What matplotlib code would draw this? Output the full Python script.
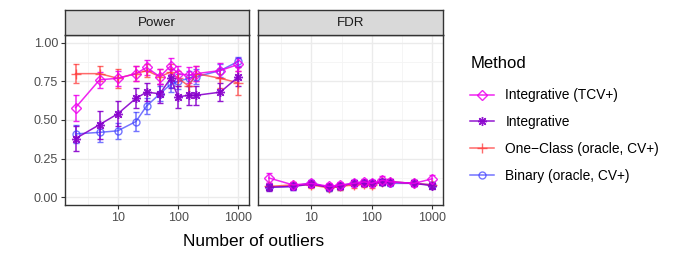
import matplotlib
matplotlib.use("Agg")
import matplotlib.pyplot as plt
from matplotlib.lines import Line2D
import numpy as np

plt.rcParams['font.family'] = ['Liberation Sans', 'DejaVu Sans']

# ---- data ----
n_outliers = [2, 5, 10, 20, 30, 50, 75, 100, 150, 200, 500, 1000]
methods = ["Integrative (TCV+)", "Integrative", "One\u2212Class (oracle, CV+)", "Binary (oracle, CV+)"]

power_tcv = [0.58, 0.76, 0.77, 0.80, 0.84, 0.78, 0.85, 0.80, 0.79, 0.80, 0.82, 0.86]
power_tcv_err = [0.085, 0.05, 0.05, 0.05, 0.05, 0.05, 0.05, 0.05, 0.05, 0.05, 0.05, 0.04]
power_int = [0.38, 0.47, 0.54, 0.64, 0.68, 0.67, 0.77, 0.65, 0.66, 0.66, 0.68, 0.78]
power_int_err = [0.08, 0.09, 0.08, 0.065, 0.06, 0.06, 0.06, 0.07, 0.06, 0.06, 0.06, 0.06]
power_oc = [0.80, 0.80, 0.77, 0.80, 0.82, 0.78, 0.81, 0.77, 0.72, 0.80, 0.77, 0.74]
power_oc_err = [0.06, 0.05, 0.06, 0.05, 0.04, 0.05, 0.05, 0.05, 0.06, 0.05, 0.06, 0.08]
power_bin = [0.41, 0.42, 0.43, 0.49, 0.59, 0.67, 0.73, 0.75, 0.77, 0.78, 0.82, 0.88]
power_bin_err = [0.06, 0.06, 0.05, 0.06, 0.05, 0.05, 0.05, 0.05, 0.05, 0.05, 0.04, 0.03]

fdr_tcv = [0.125, 0.08, 0.09, 0.07, 0.08, 0.09, 0.10, 0.09, 0.11, 0.10, 0.09, 0.12]
fdr_tcv_err = [0.03, 0.02, 0.02, 0.02, 0.02, 0.02, 0.02, 0.02, 0.025, 0.02, 0.02, 0.025]
fdr_int = [0.065, 0.07, 0.085, 0.065, 0.075, 0.09, 0.09, 0.09, 0.10, 0.10, 0.09, 0.075]
fdr_int_err = [0.025, 0.02, 0.02, 0.02, 0.02, 0.02, 0.02, 0.02, 0.02, 0.02, 0.02, 0.02]
fdr_oc = [0.07, 0.08, 0.08, 0.06, 0.07, 0.08, 0.085, 0.08, 0.10, 0.10, 0.09, 0.08]
fdr_oc_err = [0.02, 0.02, 0.02, 0.02, 0.02, 0.02, 0.02, 0.02, 0.02, 0.02, 0.02, 0.02]
fdr_bin = [0.065, 0.07, 0.095, 0.06, 0.07, 0.09, 0.09, 0.09, 0.10, 0.09, 0.09, 0.08]
fdr_bin_err = [0.02, 0.02, 0.02, 0.02, 0.02, 0.02, 0.02, 0.02, 0.02, 0.02, 0.02, 0.02]

x_ticks = [10, 100, 1000]
x_ticklabels = ["10", "100", "1000"]
y_ticks = [0.0, 0.25, 0.5, 0.75, 1.0]
y_ticklabels = ["0.00", "0.25", "0.50", "0.75", "1.00"]

colors = ["#EE00EE", "#8800CC", "#FF3838", "#3A3AFF"]
alphas = [0.85, 0.9, 0.75, 0.7]
markers = ["D", (8, 2, 0), "+", "o"]
msizes = [5, 6.5, 7, 5]

power = [(power_tcv, power_tcv_err), (power_int, power_int_err),
         (power_oc, power_oc_err), (power_bin, power_bin_err)]
fdr = [(fdr_tcv, fdr_tcv_err), (fdr_int, fdr_int_err),
       (fdr_oc, fdr_oc_err), (fdr_bin, fdr_bin_err)]

W, H = 681, 256
fig = plt.figure(figsize=(W / 100, H / 100), dpi=100)

def fx(px):
    return px / W

def fy(py):
    return 1 - py / H

panel_top, panel_bot = 35, 205
strip_top = 9.5
panels = [(65, 249.3, "Power", power, True), (258.3, 443.3, "FDR", fdr, False)]

xlo = 10 ** 0.126
xhi = 10 ** 3.18
draw_order = [3, 2, 1, 0]

for (l, r, title, data, show_y) in panels:
    ax = fig.add_axes([fx(l), fy(panel_bot), fx(r) - fx(l), fy(panel_top) - fy(panel_bot)])
    ax.set_xscale('log')
    ax.set_xlim(xlo, xhi)
    ax.set_ylim(-0.05, 1.05)
    for v in [10, 100, 1000]:
        ax.axvline(v, color="#EBEBEB", lw=1.0, zorder=0)
    for v in [10 ** 0.5, 10 ** 1.5, 10 ** 2.5]:
        ax.axvline(v, color="#F4F4F4", lw=0.6, zorder=0)
    for v in y_ticks:
        ax.axhline(v, color="#EBEBEB", lw=1.0, zorder=0)
    for v in [0.125, 0.375, 0.625, 0.875]:
        ax.axhline(v, color="#F4F4F4", lw=0.6, zorder=0)
    for i in draw_order:
        vals, err = data[i]
        ax.errorbar(n_outliers, vals, yerr=err, color=colors[i], alpha=alphas[i],
                    lw=1.1, elinewidth=1.1, capsize=2.2, capthick=1.1,
                    marker=markers[i], markersize=msizes[i], mfc='none',
                    mec=colors[i], mew=1.0, zorder=3)
    ax.minorticks_off()
    ax.set_xticks(x_ticks)
    ax.set_xticklabels(x_ticklabels)
    ax.tick_params(axis='x', length=3, width=0.8, color="#333333", labelsize=9,
                   labelcolor="#4D4D4D", pad=2)
    if show_y:
        ax.set_yticks(y_ticks)
        ax.set_yticklabels(y_ticklabels)
        ax.tick_params(axis='y', length=3, width=0.8, color="#333333", labelsize=9,
                       labelcolor="#4D4D4D", pad=2)
    else:
        ax.set_yticks(y_ticks)
        ax.tick_params(axis='y', length=0, labelleft=False)
    for s in ax.spines.values():
        s.set_color("#333333")
        s.set_linewidth(1.0)
    ax.set_facecolor("white")
    sax = fig.add_axes([fx(l), fy(panel_top), fx(r) - fx(l), fy(strip_top) - fy(panel_top)])
    sax.set_facecolor("#D9D9D9")
    sax.set_xticks([])
    sax.set_yticks([])
    for s in sax.spines.values():
        s.set_color("#333333")
        s.set_linewidth(1.0)
    sax.text(0.5, 0.47, title, ha='center', va='center', fontsize=9.6, color="#1A1A1A",
             transform=sax.transAxes)

fig.text(fx(254), fy(241), "Number of outliers", ha='center', va='center', fontsize=12.4,
         color="black")

handles = []
for i in range(4):
    handles.append(Line2D([0], [0], color=colors[i], alpha=alphas[i], lw=1.1,
                          marker=markers[i], markersize=msizes[i], mfc='none',
                          mec=colors[i], mew=1.0))
leg = fig.legend(handles, methods, loc='upper left',
                 bbox_to_anchor=(fx(458), fy(44)), frameon=False, fontsize=9.9,
                 title="Method", title_fontsize=12, handlelength=1.75,
                 labelspacing=0.93, handletextpad=0.8, alignment='left')
leg._legend_box.sep = 12.3

fig.savefig("out.png", dpi=100)
